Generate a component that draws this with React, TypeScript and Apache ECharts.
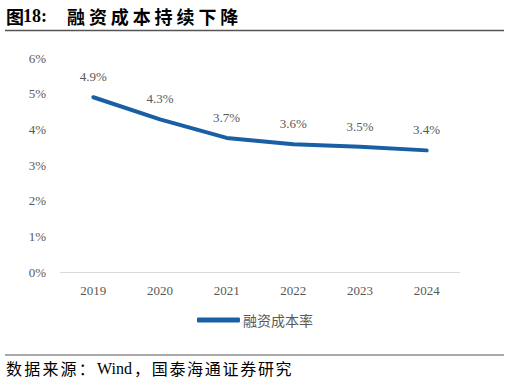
import React, { useEffect, useRef } from "react";
import * as echarts from "echarts";

const categories = ["2019", "2020", "2021", "2022", "2023", "2024"];
const financingCost = [4.9, 4.28, 3.76, 3.58, 3.51, 3.41];
const labelTexts = ["4.9%", "4.3%", "3.7%", "3.6%", "3.5%", "3.4%"];
const seriesName = "融资成本率";
const titlePrefix = "图";
const titleNumber = "18:";
const titleMain = "融资成本持续下降";
const sourcePrefix = "数据来源：";
const sourceWind = "Wind";
const sourceRest = "，国泰海通证券研究";

const serif = "'Liberation Serif', 'Noto Sans CJK SC', serif";
const cjk = "'Noto Sans CJK SC', serif";

function spaced(text: string, x0: number, pitch: number, y: number, style: any) {
  return Array.from(text).map((ch, i) => ({
    type: "text",
    x: x0 + i * pitch,
    y,
    style: { text: ch, ...style },
  }));
}

export default function App() {
  const ref = useRef<HTMLDivElement>(null);
  useEffect(() => {
    if (!ref.current) return;
    const chart = echarts.init(ref.current, undefined, { renderer: "svg" });
    const titleStyle = { fontSize: 18, fontWeight: "bold", fill: "#000", textVerticalAlign: "middle" };
    const srcStyle = { fontSize: 16, fill: "#000", textVerticalAlign: "middle" };
    chart.setOption({
      animation: false,
      grid: { left: 60, right: 50, top: 58, bottom: 110 },
      xAxis: {
        type: "category",
        data: categories,
        boundaryGap: true,
        axisLine: { lineStyle: { color: "#d9d9d9", width: 1 } },
        axisTick: { show: false },
        axisLabel: { color: "#595959", fontSize: 13, fontFamily: serif, margin: 12 },
      },
      yAxis: {
        type: "value",
        min: 0,
        max: 6,
        interval: 1,
        splitLine: { show: false },
        axisLine: { show: false },
        axisTick: { show: false },
        axisLabel: {
          color: "#595959",
          fontSize: 13,
          fontFamily: serif,
          margin: 14,
          formatter: (v: number) => v + "%",
        },
      },
      legend: {
        bottom: 50,
        left: "center",
        icon: "roundRect",
        itemWidth: 43,
        itemHeight: 5,
        itemGap: 3,
        textStyle: { color: "#595959", fontSize: 14, fontFamily: cjk, padding: [0, 0, 0, -2] },
        data: [seriesName],
      },
      series: [
        {
          name: seriesName,
          type: "line",
          data: financingCost,
          showSymbol: true,
          symbol: "circle",
          symbolSize: 0,
          itemStyle: { color: "#1a5fa3" },
          lineStyle: { color: "#1a5fa3", width: 4, cap: "round" },
          label: {
            show: true,
            position: "top",
            distance: 14,
            color: "#595959",
            fontSize: 13,
            fontFamily: serif,
            formatter: (p: any) => labelTexts[p.dataIndex],
          },
        },
      ],
      graphic: [
        { type: "text", x: 6, y: 16, style: { text: titlePrefix, fontFamily: cjk, ...titleStyle } },
        { type: "text", x: 23, y: 16, style: { text: titleNumber, fontFamily: serif, ...titleStyle } },
        ...spaced(titleMain, 67, 21.9, 16, { fontFamily: cjk, ...titleStyle }),
        {
          type: "line",
          shape: { x1: 5, y1: 30.5, x2: 504, y2: 30.5 },
          style: { stroke: "#555", lineWidth: 1.5 },
        },
        {
          type: "line",
          shape: { x1: 5, y1: 355, x2: 504, y2: 355 },
          style: { stroke: "#555", lineWidth: 1 },
        },
        ...spaced(sourcePrefix, 6, 18.2, 368, { fontFamily: cjk, ...srcStyle }),
        { type: "text", x: 97, y: 368, style: { text: sourceWind, fontFamily: serif, ...srcStyle } },
        ...spaced(sourceRest, 134, 17.7, 368, { fontFamily: cjk, ...srcStyle }),
      ],
    });
    return () => chart.dispose();
  }, []);
  return (
    <div
      ref={ref}
      style={{ position: "absolute", left: 0, top: 0, width: 510, height: 382, background: "#fff" }}
    />
  );
}
